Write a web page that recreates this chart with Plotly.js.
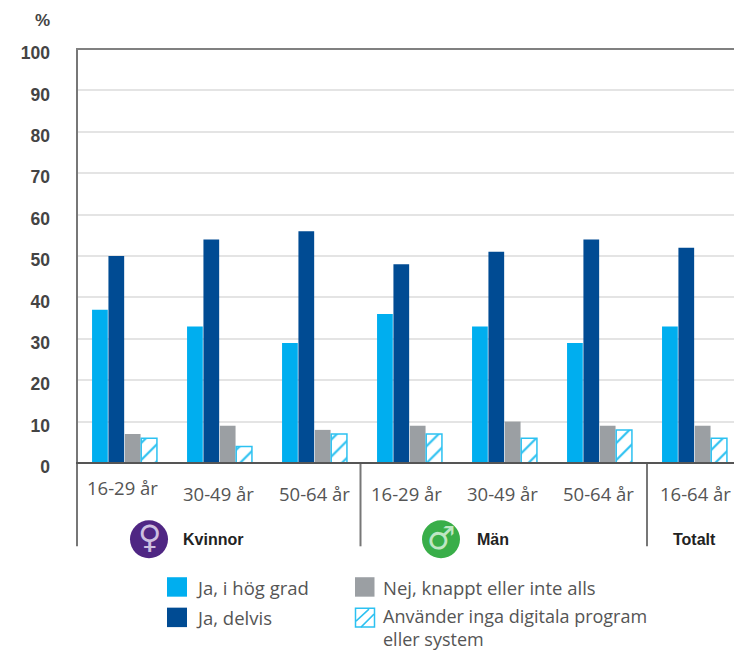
<!DOCTYPE html>
<html><head><meta charset="utf-8">
<script src="https://cdn.plot.ly/plotly-3.0.1.min.js"></script>
<style>html,body{margin:0;padding:0;background:#fff}</style></head>
<body><div id="chart" style="width:734px;height:650px"></div>
<script>
const categories = ['16-29 år','30-49 år','50-64 år','16-29 år','30-49 år','50-64 år','16-64 år'];
const positions = [0,1,2,3,4,5,6];
const hogGrad = [37,33,29,36,33,29,33];
const delvis = [50,54,56,48,51,54,52];
const knappt = [7,9,8,9,10,9,9];
const ingaProgram = [6,4,7,7,6,8,6];
const seriesNames = ['Ja, i hög grad','Ja, delvis','Nej, knappt eller inte alls','Använder inga digitala program<br>eller system'];
const yTicks = [0,10,20,30,40,50,60,70,80,90,100];
const catLabelX = [122,218,314,406,502,598,695];
const catLabelY = [488,494,494,494,494,494,494];

const W=734,H=650,L=77,T=48.5,B=463.5;
const px=x=>(x-L)/(W-L), py=y=>(B-y)/(B-T);
const sans='"Liberation Sans",Arial,sans-serif', body='"Open Sans","Noto Sans",sans-serif';
const cBlue='#00aeef',cNavy='#004b93',cGrey='#9b9fa3',cHatch='#2cc1f1';

const bar=(y,name,color)=>({type:'bar',x:positions,y,name,marker:{color,line:{width:0}},showlegend:false,hoverinfo:'y'});
const traces=[bar(hogGrad,seriesNames[0],cBlue),bar(delvis,seriesNames[1],cNavy),bar(knappt,seriesNames[2],cGrey),
 {type:'bar',x:positions,y:ingaProgram,name:seriesNames[3],showlegend:false,hoverinfo:'y',
  marker:{color:'#fff',line:{color:cHatch,width:1.5},pattern:{shape:'/',fgcolor:cHatch,bgcolor:'#fff',size:12,solidity:0.18}}}];

const rect=(x0,y0,x1,y1,fill,line)=>({type:'rect',xref:'paper',yref:'paper',x0:px(x0),x1:px(x1),y0:py(y0),y1:py(y1),fillcolor:fill,line:line||{width:0},layer:'above'});
const vline=(x,y0)=>({type:'line',xref:'paper',yref:'paper',x0:px(x),x1:px(x),y0:py(y0),y1:py(547),line:{color:'#777',width:2},layer:'above'});
const hatch=(x0,y0,x1,y1)=>({type:'line',xref:'paper',yref:'paper',x0:px(x0),x1:px(x1),y0:py(y0),y1:py(y1),line:{color:cHatch,width:1.5},layer:'above'});
const circle=(cx,cy,r,c)=>({type:'circle',xref:'paper',yref:'paper',x0:px(cx-r),x1:px(cx+r),y0:py(cy+r),y1:py(cy-r),fillcolor:c,line:{width:0},layer:'above'});
const shapes=[vline(L,T),vline(360.5,B),vline(647,B),
 {type:'line',xref:'paper',yref:'paper',x0:px(L-1),x1:1,y0:1,y1:1,line:{color:'#808080',width:2},layer:'above'},
 {type:'line',xref:'paper',yref:'paper',x0:px(L-1),x1:1,y0:0,y1:0,line:{color:'#555',width:2},layer:'above'},
 circle(149,540,19,'#4f2683'),circle(441,540,19,'#39ae49'),
 rect(167,578,187,597.5,cBlue),rect(167,608.5,187,628,cNavy),rect(355,578,374.5,597.5,cGrey),
 rect(355.5,609,374.5,628,'#fff',{color:cHatch,width:1.5}),
 hatch(356,622,369,610),hatch(361,628,374,615)];

const note=(x,y,text,size,color,family,extra)=>Object.assign({xref:'paper',yref:'paper',x:px(x),y:py(y),text,showarrow:false,
 xanchor:'center',yanchor:'middle',font:{size,color,family}},extra||{});
const annotations=[
 note(42,20,'%',17,'#444',sans,{font:{size:17,color:'#444',family:sans,weight:700}}),
 ...categories.map((c,i)=>note(catLabelX[i],catLabelY[i],c,18.5,'#555',body)),
 note(213,540,'<b>Kvinnor</b>',16,'#222',sans),
 note(493,540,'<b>Män</b>',16,'#222',sans),
 note(694,540,'<b>Totalt</b>',16,'#222',sans),
 note(149,538,'♀',32,'#cdbfe0','"DejaVu Sans"'),
 note(441,539,'♂',32,'#bfe6c4','"DejaVu Sans"'),
 note(194,588,seriesNames[0],18.5,'#555',body,{xanchor:'left'}),
 note(194,618,seriesNames[1],18.5,'#555',body,{xanchor:'left'}),
 note(381,588,seriesNames[2],18.5,'#555',body,{xanchor:'left'}),
 note(381,628,seriesNames[3],18,'#555',body,{xanchor:'left',align:'left'})
];

const layout={width:W,height:H,margin:{l:L,r:0,t:T,b:H-B,pad:0},paper_bgcolor:'#fff',plot_bgcolor:'#fff',
 barmode:'group',bargap:0.31,bargroupgap:0.04,showlegend:false,
 xaxis:{range:[-0.5,6.416],tickvals:positions,ticktext:categories.map(()=>''),showgrid:false,zeroline:false,showline:false,ticks:'',fixedrange:true},
 yaxis:{range:[0,100],tickvals:yTicks,ticktext:yTicks.map(String),showgrid:true,gridcolor:'#e4e4e4',gridwidth:2,zeroline:false,showline:false,ticks:'',
  ticklabelstandoff:26,ticklabelshift:4,tickfont:{size:17.5,color:'#444',family:sans,weight:700},fixedrange:true},
 shapes,annotations};
Plotly.newPlot('chart',traces,layout,{displayModeBar:false,staticPlot:true});
</script></body></html>
